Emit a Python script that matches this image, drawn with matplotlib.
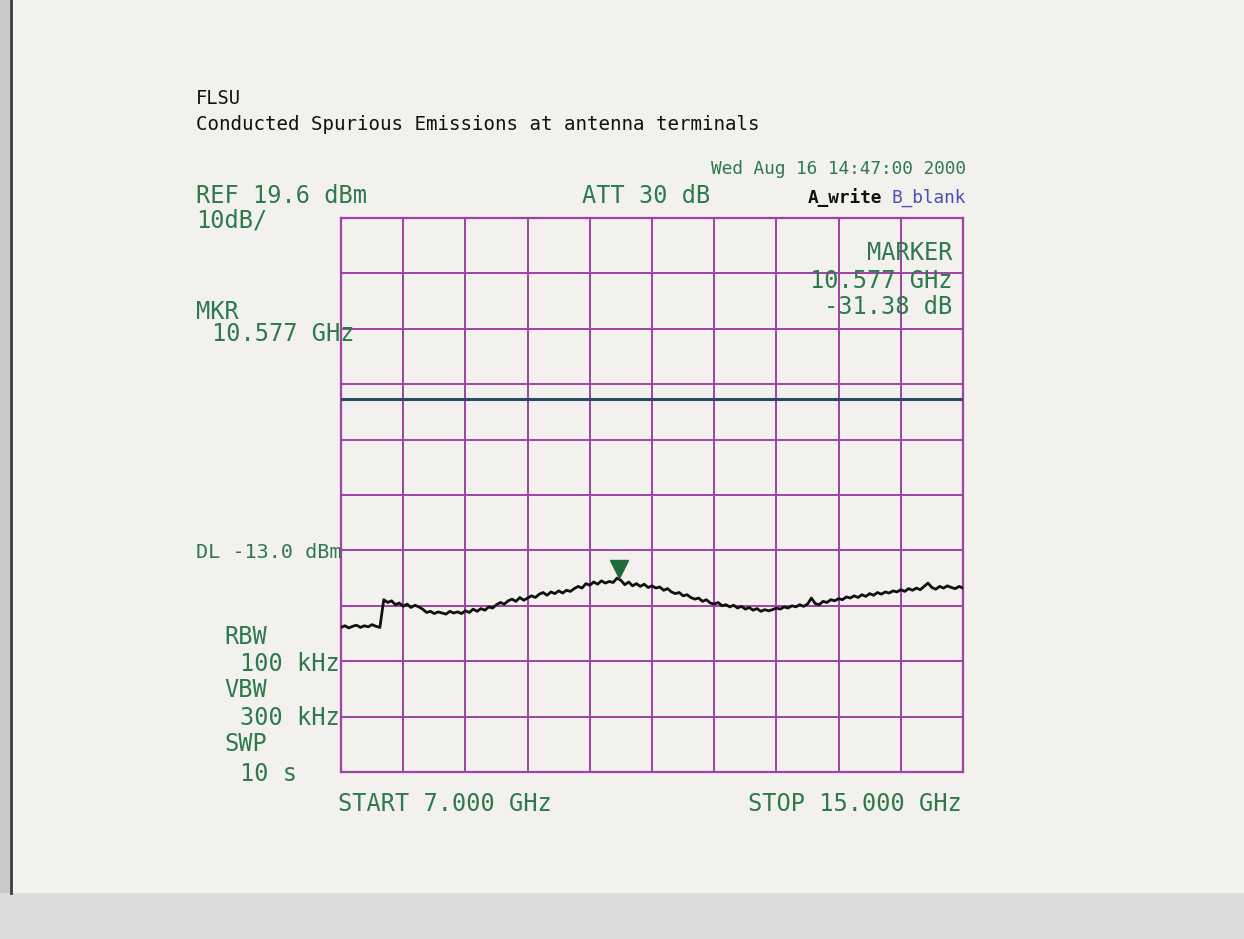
import numpy as np
import matplotlib
matplotlib.use("Agg")
import matplotlib.pyplot as plt
from matplotlib.patches import Rectangle
from matplotlib.lines import Line2D

# analyser settings
ref_level = 19.6        # dBm, top of screen
db_per_div = 10.0
start_ghz = 7.0
stop_ghz = 15.0
display_line = -13.0    # dBm
marker_ghz = 10.577

# trace, every 0.05 GHz from 7.00 to 15.00 GHz (dBm)
trace_dbm = [
    -54.3, -54.0, -54.4, -54.1, -53.9, -54.3, -54.0, -54.2, -53.8, -54.1, -54.3,
    -49.3, -49.8, -49.5, -50.2, -49.9, -50.5, -50.1, -50.7, -50.3, -50.6,
    -51.0, -51.6, -51.4, -51.8, -51.5, -51.7, -51.9, -51.4, -51.7, -51.5,
    -51.8, -51.3, -51.6, -51.0, -51.4, -50.9, -51.2, -50.6, -50.8, -50.2,
    -49.8, -50.1, -49.5, -49.2, -49.6, -48.9, -49.4, -49.0, -48.6, -48.9,
    -48.3, -48.0, -48.5, -47.9, -48.2, -47.7, -48.1, -47.6, -47.8, -47.3,
    -46.9, -47.2, -46.4, -46.7, -46.1, -46.5, -45.9, -46.3, -46.0, -46.2,
    -45.4, -45.8, -46.6, -46.1, -46.8, -46.4, -46.9, -46.5, -47.1, -46.8,
    -47.2, -47.0, -47.6, -47.3, -47.9, -48.2, -48.0, -48.6, -48.4, -48.9,
    -49.2, -49.0, -49.6, -49.3, -49.9, -50.1, -49.8, -50.4, -50.2, -50.6,
    -50.3, -50.8, -50.5, -51.0, -50.7, -51.2, -50.9, -51.4, -51.1, -51.3,
    -51.1, -50.8, -51.0, -50.6, -50.8, -50.4, -50.6, -50.2, -50.5, -50.1,
    -49.0, -50.0, -50.2, -49.6, -49.8, -49.3, -49.5, -49.1, -49.3, -48.8,
    -49.0, -48.6, -48.9, -48.4, -48.7, -48.2, -48.5, -48.0, -48.3, -47.9,
    -48.1, -47.7, -47.9, -47.5, -47.8, -47.3, -47.6, -47.2, -47.5, -46.9,
    -46.3, -47.1, -47.4, -46.9, -47.2, -46.8, -47.1, -47.3, -46.9, -47.2,
]
freq_ghz = np.linspace(start_ghz, stop_ghz, len(trace_dbm))

paper = "#f3f1ee"
green = "#2f7a4c"
grid_col = "#9e42a4"
mono = "DejaVu Sans Mono"

fig = plt.figure(figsize=(12.44, 9.39), dpi=100)
fig.patch.set_facecolor(paper)

# scan edges: grey strip at the bottom and the dark page edge on the left
fig.patches.append(Rectangle((0, 0), 1, 46 / 939, transform=fig.transFigure,
                             facecolor="#dddbdc", edgecolor="none", zorder=0))
fig.patches.append(Rectangle((0, 46 / 939), 10 / 1244, 1, transform=fig.transFigure,
                             facecolor="#c9c9cc", edgecolor="none", zorder=0))
fig.lines.append(Line2D([11 / 1244, 11 / 1244], [46 / 939, 1], transform=fig.transFigure,
                        color="#3a3a40", lw=2))

ax = fig.add_axes([341 / 1244, 1 - 772 / 939, 622 / 1244, 554 / 939])
ax.set_facecolor(paper)
bottom = ref_level - 10 * db_per_div
ax.set_xlim(start_ghz, stop_ghz)
ax.set_ylim(bottom, ref_level)
ax.set_xticks(np.linspace(start_ghz, stop_ghz, 11))
ax.set_yticks(np.linspace(bottom, ref_level, 11))
ax.tick_params(length=0, labelbottom=False, labelleft=False)
ax.grid(True, color=grid_col, lw=1.4)
for sp in ax.spines.values():
    sp.set_color(grid_col)
    sp.set_linewidth(1.6)

ax.axhline(display_line, color="#2b4a66", lw=2.2, zorder=3)
ax.plot(freq_ghz, trace_dbm, color="#111111", lw=2.0, zorder=4)
mk_y = np.interp(marker_ghz, freq_ghz, trace_dbm) + 1.8
ax.plot([marker_ghz], [mk_y], marker="v", color="#1f6a3a", markersize=13, zorder=5)

def txt(x, y, s, size=17, color=green, ha="left", **kw):
    fig.text(x / 1244, 1 - y / 939, s, fontsize=size, color=color, ha=ha,
             va="center", family=mono, **kw)

txt(196, 98, "FLSU", size=13.5, color="#111111")
txt(196, 125, "Conducted Spurious Emissions at antenna terminals", size=13.8, color="#111111")
txt(966, 169, "Wed Aug 16 14:47:00 2000", size=12.8, ha="right")
txt(196, 196, "REF 19.6 dBm")
txt(196, 220, "10dB/")
txt(582, 196, "ATT 30 dB")
txt(882, 198, "A_write", size=12.8, color="#111111", ha="right", weight="bold")
txt(966, 198, "B_blank", size=12.8, color="#4a4fb0", ha="right")
txt(952, 253, "MARKER", ha="right")
txt(952, 281, "10.577 GHz", ha="right")
txt(952, 307, "-31.38 dB", ha="right")
txt(196, 312, "MKR")
txt(212, 334, "10.577 GHz")
txt(196, 553, "DL -13.0 dBm", size=14.5)
txt(224, 637, "RBW")
txt(240, 664, "100 kHz")
txt(224, 690, "VBW")
txt(240, 718, "300 kHz")
txt(224, 744, "SWP")
txt(240, 774, "10 s")
txt(338, 804, "START 7.000 GHz")
txt(962, 804, "STOP 15.000 GHz", ha="right")

fig.savefig("out.png", dpi=100, facecolor=fig.get_facecolor())
